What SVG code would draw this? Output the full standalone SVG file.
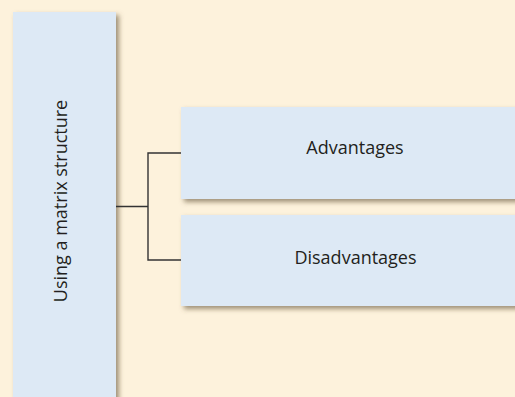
<svg xmlns="http://www.w3.org/2000/svg" width="515" height="397" viewBox="0 0 515 397">
  <defs>
    <filter id="sh" x="-10%" y="-10%" width="130%" height="130%">
      <feDropShadow dx="3" dy="3" stdDeviation="2.5" flood-color="#6b5a3e" flood-opacity="0.65"/>
    </filter>
    <style>
      .box { fill: #dde9f5; filter: url(#sh); }
      .lbl { font-family: "Open Sans", "Noto Sans", sans-serif; font-size: 18px; fill: #231f20; text-anchor: middle; }
      .conn { fill: none; stroke: #333333; stroke-width: 1.4; }
    </style>
  </defs>
  <rect x="0" y="0" width="515" height="397" fill="#fdf2dc"/>
  <g id="root">
    <rect class="box" x="13" y="12" width="103" height="400"/>
    <text class="lbl" transform="translate(67,201) rotate(-90)">Using a matrix structure</text>
  </g>
  <g id="advantages">
    <rect class="box" x="181" y="107" width="345" height="92"/>
    <text class="lbl" x="355" y="153.5">Advantages</text>
  </g>
  <g id="disadvantages">
    <rect class="box" x="181" y="215" width="345" height="91"/>
    <text class="lbl" x="355.5" y="264">Disadvantages</text>
  </g>
  <g id="connectors">
    <path class="conn" d="M116 206.5 H148 M181 153 H148 V260 H181"/>
  </g>
</svg>
